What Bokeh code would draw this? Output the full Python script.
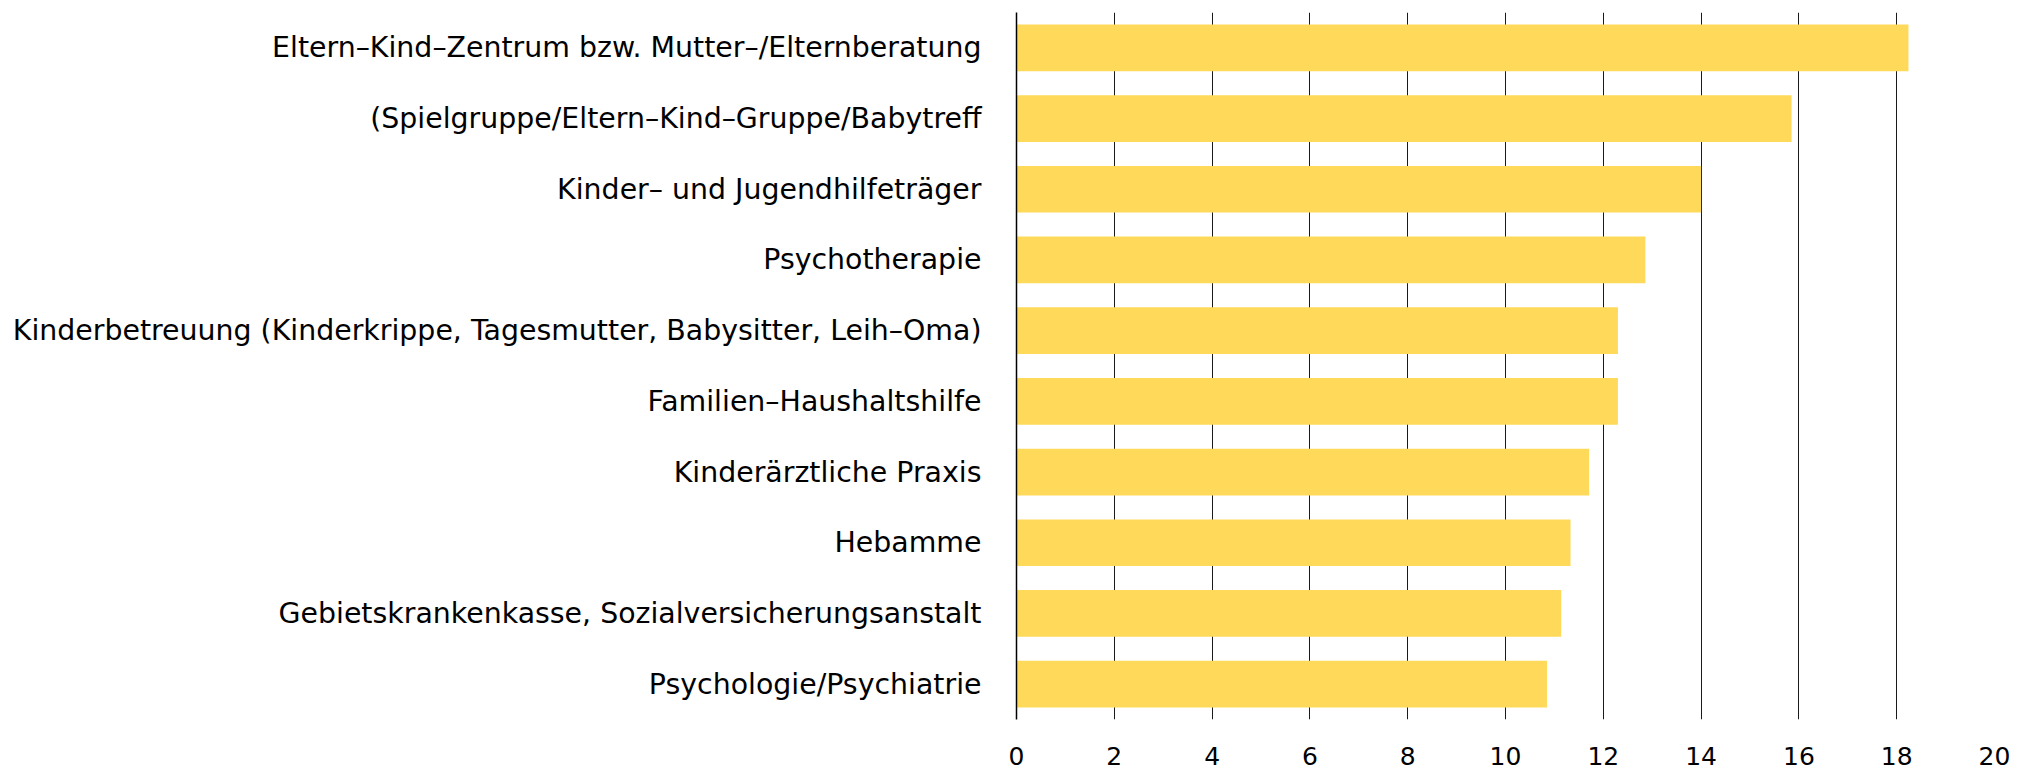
from bokeh.plotting import figure
from bokeh.models import ColumnDataSource, FactorRange
from bokeh.embed import file_html
from bokeh.resources import INLINE

categories = [
    "Eltern\u2013Kind\u2013Zentrum bzw. Mutter\u2013/Elternberatung",
    "(Spielgruppe/Eltern\u2013Kind\u2013Gruppe/Babytreff",
    "Kinder\u2013 und Jugendhilfeträger",
    "Psychotherapie",
    "Kinderbetreuung (Kinderkrippe, Tagesmutter, Babysitter, Leih\u2013Oma)",
    "Familien\u2013Haushaltshilfe",
    "Kinderärztliche Praxis",
    "Hebamme",
    "Gebietskrankenkasse, Sozialversicherungsanstalt",
    "Psychologie/Psychiatrie",
]
values = [18.24, 15.85, 14.0, 12.86, 12.3, 12.3, 11.71, 11.33, 11.14, 10.85]
x_ticks = [0, 2, 4, 6, 8, 10, 12, 14, 16, 18, 20]

src = ColumnDataSource(dict(cat=categories, val=values))

p = figure(
    width=2031, height=770,
    y_range=FactorRange(*list(reversed(categories)), range_padding=0),
    x_range=(0, 20),
    output_backend="svg", toolbar_location=None,
    min_border_left=1016, min_border_right=37, min_border_top=12, min_border_bottom=51,
)
p.outline_line_color = None
p.background_fill_color = "white"

p.hbar(y="cat", right="val", left=0, height=0.66, source=src,
       fill_color="#FFDA5A", line_color=None)

p.xaxis.ticker = x_ticks
p.xaxis.axis_line_color = None
p.xaxis.major_tick_line_color = None
p.xaxis.minor_tick_line_color = None
p.xaxis.major_tick_out = 0
p.xaxis.major_tick_in = 0
p.xaxis.major_label_standoff = 27
p.xaxis.major_label_text_line_height = 1.0
p.xaxis.major_label_text_font = "DejaVu Sans"
p.xaxis.major_label_text_font_size = "25px"
p.xaxis.major_label_text_color = "black"

p.yaxis.axis_line_color = "black"
p.yaxis.axis_line_width = 1.5
p.yaxis.major_tick_line_color = None
p.yaxis.minor_tick_line_color = None
p.yaxis.major_tick_out = 0
p.yaxis.major_tick_in = 0
p.yaxis.major_label_standoff = 35
p.yaxis.major_label_text_font = "DejaVu Sans"
p.yaxis.major_label_text_font_size = "28.4px"
p.yaxis.major_label_text_color = "black"

p.xgrid.grid_line_color = "#1a1a1a"
p.xgrid.grid_line_width = 1
p.ygrid.grid_line_color = None

open("out.html", "w").write(file_html(p, INLINE))
